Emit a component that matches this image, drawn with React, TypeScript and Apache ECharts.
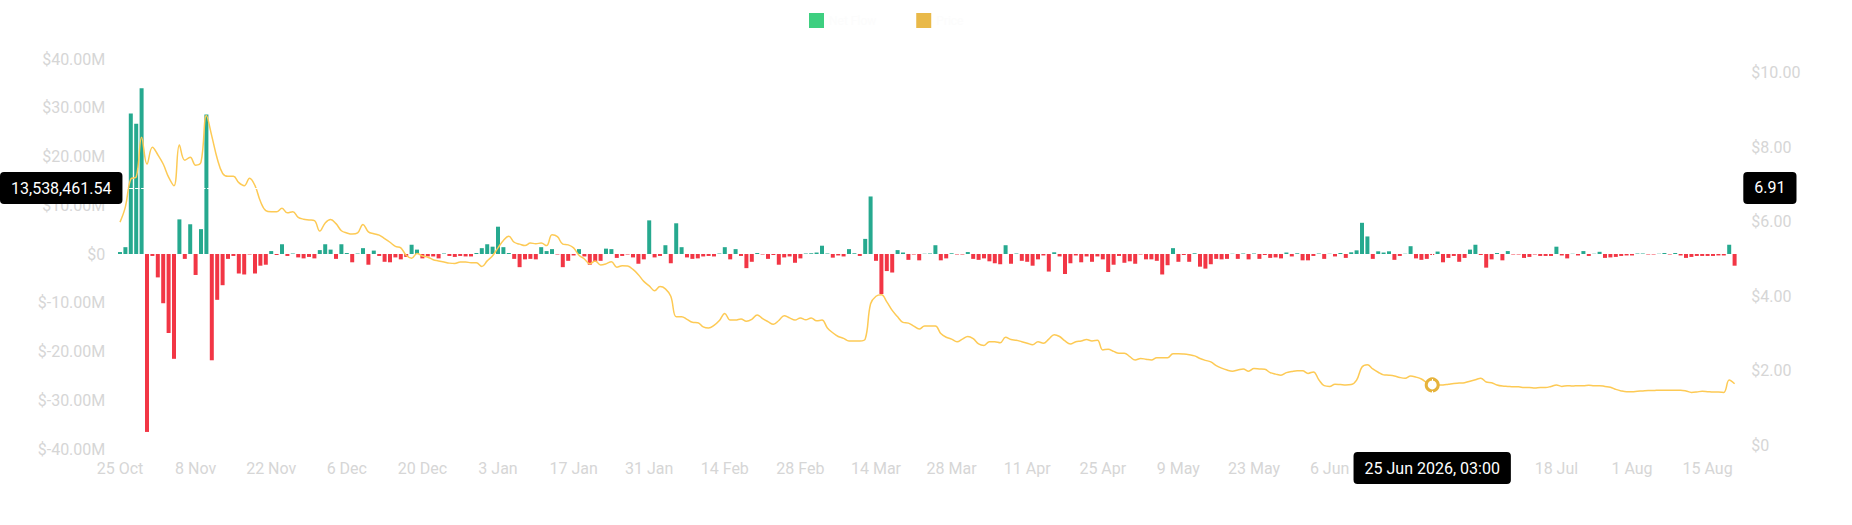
import React, { useEffect, useRef } from "react";
import * as echarts from "echarts";

// ---- data ----
const START_DATE = "2025-10-25";
const DAY_COUNT = 300;
const POINTER_TIME = "03:00";
const HOVER_INDEX = 243;
const HOVER_FLOW = 13538461.54;
const HOVER_PRICE = 6.91;

// daily net flow, in millions of USD
const netFlowM: number[] = [
  0.4, 1.4, 28.8, 26.7, 34.0, -36.5, -0.4, -4.8, -10.1, -16.2,
  -21.5, 7.1, -1.0, 6.1, -4.3, 5.1, 28.6, -21.8, -9.4, -6.4,
  -1.0, -0.4, -4.0, -4.2, -0.1, -4.0, -2.4, -2.2, 0.6, -0.2,
  2.0, -0.4, 0.1, -0.7, -0.9, -0.6, -0.9, 0.8, 2.0, 0.9,
  -1.0, 2.0, 0.2, -1.7, 0.1, 1.2, -2.2, 0.7, -0.4, -1.6,
  -1.7, -0.7, -1.1, -0.6, 1.9, 0.9, -0.9, -0.5, -0.5, -0.9,
  0.1, -0.4, -0.6, -0.4, -0.5, -0.5, 0.2, 1.2, 2.0, 1.5,
  5.6, 1.4, 0.2, -1.0, -2.7, -1.1, -1.0, -1.1, 1.4, 0.6,
  1.0, -0.1, -2.7, -1.4, -0.3, 1.0, -0.5, -2.2, -1.6, -1.4,
  1.1, 1.0, -0.8, -0.4, -0.1, -0.7, -2.0, -1.1, 6.9, -0.7,
  -0.4, 1.8, -1.9, 6.3, 1.4, -0.7, -1.0, -0.9, -0.5, -0.4,
  -0.5, 0.1, 1.4, -1.1, 1.0, -0.4, -2.9, -1.6, 0.2, -0.1,
  -1.0, -0.2, -2.2, -0.7, -0.5, -1.8, -0.9, 0.1, 0.15, 0.3,
  1.7, 0.1, -0.75, -0.3, -0.5, 1.0, 0.15, -0.4, 3.1, 11.8,
  -1.4, -8.2, -3.5, -3.8, 0.8, 0.3, -1.2, -0.1, -1.3, 0.05,
  0.1, 1.8, -1.3, -0.9, 0.15, -0.1, -0.1, 0.4, -1.0, -1.2,
  -0.9, -1.5, -1.9, -2.1, 1.8, -2.0, 0.1, -1.4, -1.6, -2.4,
  -1.1, -0.3, -3.6, 0.35, -0.5, -4.1, -1.9, -0.3, -1.7, -0.5,
  -1.6, -0.5, -1.1, -3.7, -2.2, -0.4, -1.8, -1.5, -2.0, -0.1,
  -1.1, -1.1, -1.4, -4.2, -2.3, 1.2, -1.6, -0.2, -1.6, 0.15,
  -2.6, -3.0, -2.1, -1.0, -1.1, -1.0, 0.05, -1.0, 0.1, -1.1,
  0.1, -1.0, -0.2, -0.8, -0.7, -0.9, 0.3, -0.5, 0.15, -1.3,
  -1.3, -0.4, 0.1, -1.0, 0.05, -0.5, 0.2, -0.8, 0.35, 0.75,
  6.4, 3.6, -1.0, 0.55, 0.3, 0.55, -1.2, -0.4, 0.05, 1.6,
  -0.9, -1.2, -1.0, -0.2, 0.5, -1.7, -0.8, -0.4, -1.6, -0.8,
  0.9, 1.9, -0.2, -2.8, -1.1, 0.2, -1.3, 0.6, -0.1, -0.1,
  -0.8, -0.6, -0.1, -0.4, -0.4, -0.4, 1.5, -0.3, -0.9, 0.05,
  -0.3, 0.6, -0.4, 0.05, 0.45, -0.8, -0.7, -0.6, -0.4, -0.3,
  -0.3, 0.1, 0.1, -0.1, -0.1, 0.05, 0.2, -0.1, 0.2, -0.3,
  -0.8, -0.6, -0.4, -0.4, -0.4, -0.4, -0.3, -0.3, 1.9, -2.4,
];

// daily price, USD
const price: number[] = [
  5.99, 6.4, 7.15, 7.2, 8.27, 7.55, 8.0, 7.8, 7.55, 7.2,
  6.97, 8.06, 7.65, 7.73, 7.52, 7.6, 8.85, 8.3, 7.7, 7.3,
  7.22, 7.22, 7.05, 6.97, 7.17, 6.97, 6.55, 6.3, 6.27, 6.27,
  6.36, 6.24, 6.27, 6.12, 6.07, 6.05, 6.03, 5.75, 5.97, 6.06,
  5.95, 5.76, 5.7, 5.67, 5.7, 5.93, 5.73, 5.68, 5.64, 5.55,
  5.45, 5.34, 5.3, 5.1, 5.02, 5.15, 5.08, 5.05, 4.98, 4.95,
  4.92, 4.89, 4.88, 4.92, 4.92, 4.9, 4.9, 4.8, 4.95, 5.09,
  5.3, 5.5, 5.61, 5.45, 5.4, 5.36, 5.43, 5.41, 5.43, 5.36,
  5.65, 5.6, 5.4, 5.38, 5.3, 5.1, 5.0, 4.87, 4.95, 4.84,
  4.87, 4.93, 4.78, 4.82, 4.81, 4.72, 4.58, 4.4, 4.28, 4.15,
  4.26, 4.2, 4.0, 3.45, 3.45, 3.38, 3.3, 3.29, 3.18, 3.15,
  3.22, 3.35, 3.54, 3.36, 3.36, 3.39, 3.33, 3.38, 3.5, 3.4,
  3.32, 3.25, 3.35, 3.48, 3.42, 3.36, 3.42, 3.37, 3.42, 3.34,
  3.36, 3.15, 3.02, 2.92, 2.87, 2.8, 2.8, 2.8, 2.85, 3.8,
  4.0, 4.04, 3.85, 3.62, 3.45, 3.3, 3.28, 3.2, 3.12, 3.2,
  3.2, 3.2, 3.0, 2.9, 2.85, 2.78, 2.85, 2.92, 2.86, 2.72,
  2.68, 2.78, 2.78, 2.75, 2.9, 2.84, 2.82, 2.78, 2.74, 2.7,
  2.78, 2.74, 2.85, 2.97, 2.92, 2.8, 2.72, 2.78, 2.8, 2.84,
  2.8, 2.82, 2.56, 2.58, 2.52, 2.47, 2.47, 2.38, 2.29, 2.33,
  2.31, 2.29, 2.35, 2.35, 2.35, 2.46, 2.46, 2.45, 2.43, 2.4,
  2.33, 2.28, 2.24, 2.14, 2.07, 2.02, 1.99, 2.02, 2.05, 1.99,
  2.06, 2.05, 2.04, 1.95, 1.91, 1.88, 1.95, 1.98, 2.0, 2.0,
  1.93, 1.97, 1.76, 1.6, 1.58, 1.64, 1.63, 1.62, 1.63, 1.75,
  2.1, 2.16, 2.05, 1.96, 1.89, 1.88, 1.86, 1.82, 1.8, 1.86,
  1.83, 1.78, 1.68, 1.62, 1.62, 1.62, 1.64, 1.66, 1.67, 1.68,
  1.72, 1.76, 1.8, 1.7, 1.68, 1.62, 1.59, 1.58, 1.57, 1.57,
  1.55, 1.55, 1.54, 1.55, 1.55, 1.58, 1.62, 1.58, 1.6, 1.59,
  1.6, 1.6, 1.61, 1.6, 1.6, 1.58, 1.56, 1.5, 1.46, 1.44,
  1.44, 1.45, 1.46, 1.47, 1.47, 1.48, 1.48, 1.48, 1.48, 1.48,
  1.46, 1.42, 1.43, 1.45, 1.44, 1.43, 1.43, 1.42, 1.75, 1.65,
];

const MONTHS = ["Jan", "Feb", "Mar", "Apr", "May", "Jun", "Jul", "Aug", "Sep", "Oct", "Nov", "Dec"];

const categories: string[] = (() => {
  const out: string[] = [];
  const start = Date.parse(START_DATE + "T00:00:00Z");
  for (let i = 0; i < DAY_COUNT; i++) {
    const d = new Date(start + i * 86400000);
    out.push(d.toISOString().slice(0, 10));
  }
  return out;
})();

const shortLabel = (iso: string) => {
  const [, m, d] = iso.split("-");
  return `${parseInt(d, 10)} ${MONTHS[parseInt(m, 10) - 1]}`;
};
const longLabel = (iso: string) => {
  const [y, m, d] = iso.split("-");
  return `${parseInt(d, 10)} ${MONTHS[parseInt(m, 10) - 1]} ${y}, ${POINTER_TIME}`;
};

const GREEN = "#26a98f";
const RED = "#f23645";
const LINE = "#fdca55";
const LABEL_GREY = "#d6d6d6";
const FONT = "Roboto";

export default function App() {
  const ref = useRef<HTMLDivElement>(null);

  useEffect(() => {
    if (!ref.current) return;
    const chart = echarts.init(ref.current, undefined, { renderer: "svg" });

    const flowData = netFlowM.map((v) => ({
      value: v * 1e6,
      itemStyle: { color: v >= 0 ? GREEN : RED },
    }));

    const pointerLabel = {
      show: true,
      backgroundColor: "#000",
      color: "#fff",
      fontFamily: FONT,
      fontSize: 16,
      padding: [8, 11],
      borderRadius: 4,
      shadowBlur: 0,
    };

    chart.setOption({
      animation: false,
      textStyle: { fontFamily: FONT },
      legend: {
        left: 804,
        top: 8,
        itemWidth: 15,
        itemHeight: 15,
        itemGap: 40,
        icon: "rect",
        textStyle: { color: "#fcfcfc", fontSize: 12, fontFamily: FONT },
        data: [
          { name: "Net Flow", itemStyle: { color: "#3ecf80" } },
          { name: "Price", itemStyle: { color: "#e9b949" } },
        ],
      },
      grid: {
        left: 117.3,
        right: 114.7,
        top: 59,
        bottom: 76,
        containLabel: false,
        outerBoundsMode: "none",
      },
      xAxis: {
        type: "category",
        data: categories,
        boundaryGap: true,
        axisLine: { show: false },
        axisTick: { show: false },
        splitLine: { show: false },
        axisLabel: {
          interval: 13,
          color: LABEL_GREY,
          fontSize: 16,
          fontFamily: FONT,
          margin: 11,
          formatter: (v: string) => shortLabel(v),
        },
        axisPointer: {
          show: true,
          type: "line",
          status: "show",
          value: HOVER_INDEX,
          triggerTooltip: false,
          lineStyle: { color: "#ffffff", type: "dashed", width: 1 },
          label: {
            ...pointerLabel,
            margin: 3,
            formatter: (p: any) => {
              const idx = typeof p.value === "number" ? p.value : categories.indexOf(p.value);
              return longLabel(categories[idx] ?? String(p.value));
            },
          },
        },
      },
      yAxis: [
        {
          type: "value",
          position: "left",
          min: -40e6,
          max: 40e6,
          interval: 10e6,
          axisLine: { show: false },
          axisTick: { show: false },
          splitLine: { show: false },
          axisLabel: {
            color: LABEL_GREY,
            fontSize: 16,
            fontFamily: FONT,
            margin: 12,
            formatter: (v: number) =>
              Math.abs(v) < 1e-6 ? "$0" : "$" + (v / 1e6).toFixed(2) + "M",
          },
          axisPointer: {
            show: true,
            type: "line",
            status: "show",
            value: HOVER_FLOW,
            triggerTooltip: false,
            lineStyle: { color: "#ffffff", type: "dashed", width: 1 },
            label: {
              ...pointerLabel,
              margin: 3,
              formatter: (p: any) =>
                Number(p.value).toLocaleString("en-US", {
                  minimumFractionDigits: 2,
                  maximumFractionDigits: 2,
                }),
            },
          },
        },
        {
          type: "value",
          position: "right",
          min: -0.1,
          max: 10.37,
          splitNumber: 5,
          axisLine: { show: false },
          axisTick: { show: false },
          splitLine: { show: false },
          axisLabel: {
            color: LABEL_GREY,
            fontSize: 16,
            fontFamily: FONT,
            margin: 14,
            showMinLabel: false,
            showMaxLabel: false,
            formatter: (v: number) => (Math.abs(v) < 1e-9 ? "$0" : "$" + v.toFixed(2)),
          },
          axisPointer: {
            show: true,
            type: "line",
            status: "show",
            value: HOVER_PRICE,
            triggerTooltip: false,
            lineStyle: { color: "#ffffff", type: "dashed", width: 1 },
            label: {
              ...pointerLabel,
              margin: 6,
              formatter: (p: any) => Number(p.value).toFixed(2),
            },
          },
        },
      ],
      series: [
        {
          name: "Net Flow",
          type: "bar",
          yAxisIndex: 0,
          barWidth: 4,
          data: flowData,
        },
        {
          name: "Price",
          type: "line",
          yAxisIndex: 1,
          data: price,
          smooth: 0.4,
          symbol: "none",
          z: 3,
          lineStyle: { color: LINE, width: 1.5 },
          itemStyle: { color: LINE },
          markPoint: {
            silent: true,
            symbol: "circle",
            symbolSize: 12,
            label: { show: false },
            itemStyle: { color: "#ffffff", borderColor: "#e6b33c", borderWidth: 3 },
            data: [{ coord: [HOVER_INDEX, price[HOVER_INDEX]] }],
          },
        },
      ],
    });

    return () => chart.dispose();
  }, []);

  return (
    <div
      ref={ref}
      style={{ position: "absolute", left: 0, top: 0, width: 1852, height: 525, background: "#fff" }}
    />
  );
}
